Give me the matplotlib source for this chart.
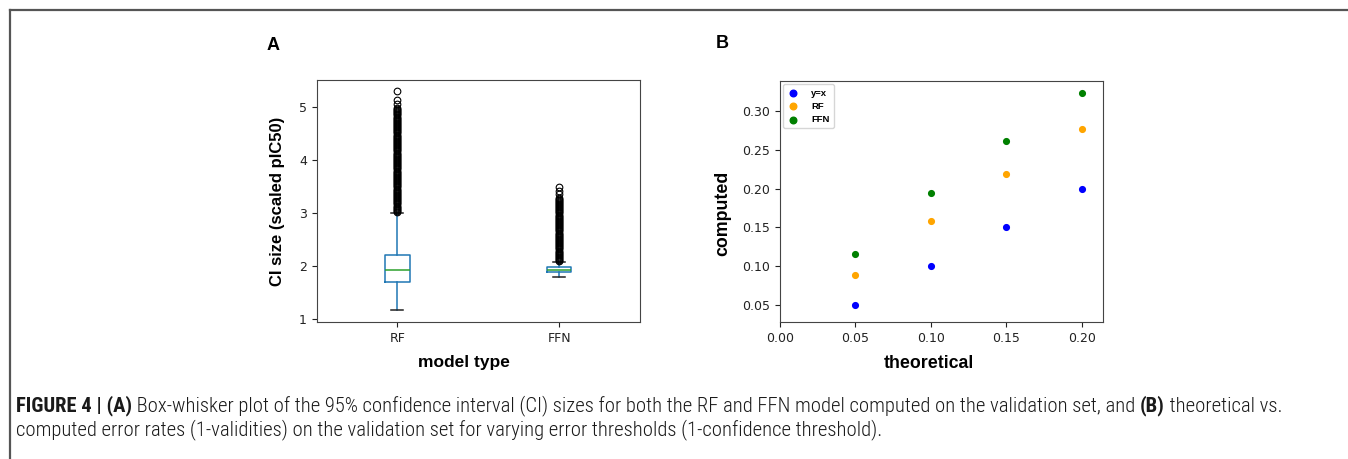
import matplotlib
matplotlib.use('Agg')
import matplotlib.pyplot as plt
from matplotlib import font_manager
from matplotlib.lines import Line2D

# ---- data ----
box_labels = ['RF', 'FFN']
box_med = [1.93, 1.93]
box_q1 = [1.69, 1.89]
box_q3 = [2.21, 1.97]
box_whislo = [1.16, 1.79]
box_whishi = [3.00, 2.07]
rf_fliers = [3.02, 3.04, 3.06, 3.08, 3.10, 3.12, 3.14, 3.16, 3.18, 3.20,
             3.22, 3.24, 3.26, 3.28, 3.30, 3.32, 3.34, 3.36, 3.38, 3.40,
             3.42, 3.44, 3.46, 3.48, 3.50, 3.52, 3.54, 3.56, 3.58, 3.60,
             3.62, 3.64, 3.66, 3.68, 3.70, 3.72, 3.74, 3.76, 3.78, 3.80,
             3.82, 3.84, 3.86, 3.88, 3.90, 3.92, 3.94, 3.96, 3.98, 4.00,
             4.02, 4.04, 4.06, 4.08, 4.10, 4.12, 4.14, 4.16, 4.18, 4.20,
             4.22, 4.24, 4.26, 4.28, 4.30, 4.32, 4.34, 4.36, 4.38, 4.40,
             4.42, 4.44, 4.46, 4.48, 4.50, 4.52, 4.54, 4.56, 4.58, 4.60,
             4.62, 4.64, 4.66, 4.68, 4.70, 4.72, 4.74, 4.76, 4.78, 4.80,
             4.82, 4.84, 4.86, 4.88, 4.90, 4.92, 4.94, 4.96, 4.98,
             5.05, 5.13, 5.30]
ffn_fliers = [2.09, 2.11, 2.13, 2.15, 2.17, 2.19, 2.21, 2.23, 2.25, 2.27,
              2.29, 2.31, 2.33, 2.35, 2.37, 2.39, 2.41, 2.43, 2.45, 2.47,
              2.49, 2.51, 2.53, 2.55, 2.57, 2.59, 2.61, 2.63, 2.65, 2.67,
              2.69, 2.71, 2.73, 2.75, 2.77, 2.79, 2.81, 2.83, 2.85, 2.87,
              2.89, 2.91, 2.93, 2.95, 2.97, 2.99, 3.01, 3.03, 3.05, 3.07,
              3.09, 3.11, 3.13, 3.15, 3.17, 3.19, 3.21, 3.23, 3.25, 3.27,
              3.29, 3.35, 3.42, 3.49]

theoretical = [0.05, 0.10, 0.15, 0.20]
yx = [0.05, 0.10, 0.15, 0.20]
rf_err = [0.089, 0.158, 0.219, 0.277]
ffn_err = [0.116, 0.195, 0.261, 0.324]

caption_1 = [('FIGURE 4 | (A)', True),
             (' Box-whisker plot of the 95% confidence interval (CI) sizes for both the RF and FFN '
              'model computed on the validation set, and ', False),
             ('(B)', True), (' theoretical vs.', False)]
caption_2 = [('computed error rates (1-validities) on the validation set for varying error '
              'thresholds (1-confidence threshold).', False)]

# fonts
installed = {f.name for f in font_manager.fontManager.ttflist}
def pick(cands, default='DejaVu Sans'):
    for c in cands:
        if c in installed:
            return c
    return default
label_font = pick(['Liberation Sans', 'Arimo'])
cap_font = pick(['Liberation Sans Narrow', 'Roboto Condensed', 'Archivo Narrow',
                 'Barlow Semi Condensed'], label_font)

W, H = 1348, 459
fig = plt.figure(figsize=(W / 100, H / 100), dpi=100)

# outer frame (top and left rule)
fig.add_artist(Line2D([10/W, 1], [1 - 10/H, 1 - 10/H], color='#555555', lw=1.6))
fig.add_artist(Line2D([10/W, 10/W], [0, 1 - 10/H], color='#555555', lw=1.6))

# --- Panel A: box plot ---
axA = fig.add_axes([316.5/W, 137/H, 323.5/W, 242/H])
stats = []
fl = [rf_fliers, ffn_fliers]
for i, lab in enumerate(box_labels):
    stats.append(dict(label=lab, med=box_med[i], q1=box_q1[i], q3=box_q3[i],
                      whislo=box_whislo[i], whishi=box_whishi[i], fliers=fl[i]))
axA.bxp(stats, widths=0.15,
        boxprops=dict(color='#1f77b4', lw=1.1),
        whiskerprops=dict(color='#1f77b4', lw=1.1),
        capprops=dict(color='#222222', lw=1.1),
        medianprops=dict(color='#2ca02c', lw=1.1),
        flierprops=dict(marker='o', markerfacecolor='none', markeredgecolor='black',
                        markersize=4.8, markeredgewidth=0.8))
axA.set_xlim(0.5, 2.5)
axA.set_ylim(0.94, 5.51)
axA.set_yticks([1, 2, 3, 4, 5])
axA.tick_params(labelsize=9, colors='#222222')
axA.set_ylabel('CI size (scaled pIC50)', fontsize=12, fontweight='bold',
               family=label_font, labelpad=10)
axA.set_xlabel('model type', fontsize=12.5, fontweight='bold', family=label_font)
axA.xaxis.set_label_coords((463.5 - 316.5) / 323.5, -(363 - 322) / 242)
axA.xaxis.label.set_va('center')
for s in axA.spines.values():
    s.set_color('#444444')
fig.text(267/W, 1 - 46/H, 'A', fontsize=13, fontweight='bold',
         family=label_font, va='center', ha='left')

# --- Panel B: scatter ---
axB = fig.add_axes([780/W, 137/H, 323/W, 241/H])
axB.scatter(theoretical, yx, color='blue', s=17, label='y=x')
axB.scatter(theoretical, rf_err, color='orange', s=17, label='RF')
axB.scatter(theoretical, ffn_err, color='green', s=17, label='FFN')
axB.set_xlim(0.0, 0.214)
axB.set_ylim(0.028, 0.339)
axB.set_xticks([0.0, 0.05, 0.10, 0.15, 0.20])
axB.set_xticklabels(['0.00', '0.05', '0.10', '0.15', '0.20'])
axB.set_yticks([0.05, 0.10, 0.15, 0.20, 0.25, 0.30])
axB.set_yticklabels(['0.05', '0.10', '0.15', '0.20', '0.25', '0.30'])
axB.tick_params(labelsize=9, colors='#222222')
axB.set_xlabel('theoretical', fontsize=12.8, fontweight='bold', family=label_font)
axB.xaxis.set_label_coords((929 - 780) / 323, -(363 - 322) / 241)
axB.xaxis.label.set_va('center')
axB.set_ylabel('computed', fontsize=12.8, fontweight='bold', family=label_font)
axB.yaxis.set_label_coords(-(780 - 723) / 323, (322 - 213.5) / 241)
axB.yaxis.label.set_va('center')
for s in axB.spines.values():
    s.set_color('#444444')
axB.legend(loc='upper left', prop=dict(size=6.8, weight='bold', family=label_font),
           handletextpad=1.3, borderpad=0.45, labelspacing=0.45, handlelength=1.2,
           borderaxespad=0.35, markerscale=1.15)
fig.text(716/W, 1 - 43/H, 'B', fontsize=13, fontweight='bold',
         family=label_font, va='center', ha='left')

# --- caption: bold and regular runs chained one after another ---
cap_texts = []
def chain(parts, x, y):
    prev = None
    for txt, bold in parts:
        w = 'bold' if bold else 300
        if prev is None:
            prev = fig.text(x, y, txt, fontsize=10, fontweight=w, family=cap_font,
                            va='bottom', ha='left', color='#1a1a1a')
        else:
            prev = fig.add_artist(matplotlib.text.Annotation(
                txt, xy=(1, 0), xycoords=prev, xytext=(0, 0),
                textcoords='offset points', fontsize=10, fontweight=w,
                family=cap_font, va='bottom', ha='left', color='#1a1a1a',
                annotation_clip=False))
        cap_texts.append(prev)
    return prev

last1 = chain(caption_1, 16/W, 1 - 416/H)
chain(caption_2, 16/W, 1 - 440/H)

# scale caption so line 1 runs to the same right edge as the reference
size = 10.0
for _ in range(3):
    fig.canvas.draw()
    r = fig.canvas.get_renderer()
    right = last1.get_window_extent(r).x1
    size *= (1282 - 16) / (right - 16)
    for t in cap_texts:
        t.set_fontsize(size)

fig.savefig('out.png', dpi=100)
